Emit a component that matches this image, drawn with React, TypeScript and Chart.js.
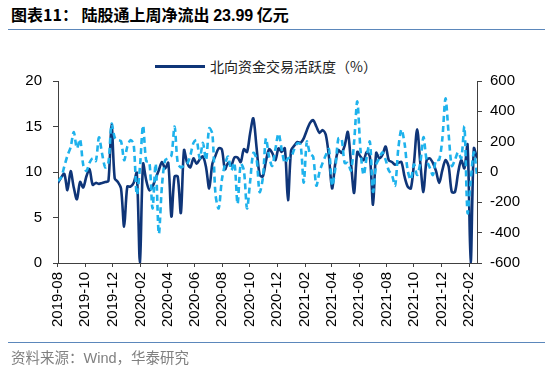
import React, { useEffect, useRef } from "react";
import { Chart, registerables } from "chart.js";

Chart.register(...registerables);

// Weekly observations starting from this Friday
const START_DATE = "2019-08-02";

const tickLabels = [
  "2019-08", "2019-10", "2019-12", "2020-02", "2020-04", "2020-06", "2020-08", "2020-10",
  "2020-12", "2021-02", "2021-04", "2021-06", "2021-08", "2021-10", "2021-12", "2022-02",
];

// 北向资金交易活跃度（%）— left axis
const activity = [
  8.8, 9.4, 9.8, 8.0, 10.1, 8.3, 7.0, 8.9, 8.3, 9.5,
  10.3, 8.6, 8.8, 8.7, 8.8, 8.9, 9.0, 15.2, 9.3, 8.9,
  8.2, 4.0, 8.4, 8.4, 8.8, 9.9, 0, 10.9, 9.1, 8.0,
  8.4, 9.3, 10.2, 11.1, 10.4, 11.0, 5.1, 9.5, 9.5, 5.5,
  12.4, 11.0, 10.5, 11.5, 10.9, 11.4, 11.7, 10.5, 8.2, 10.9,
  11.8, 12.6, 12.5, 10.3, 11.0, 10.7, 11.6, 11.6, 11.1, 12.5,
  12.2, 14.3, 15.9, 12.8, 9.7, 9.5, 11.2, 12.5, 12.1, 11.3,
  12.6, 12.2, 12.6, 6.9, 12.4, 12.9, 13.3, 13.2, 13.7, 14.6,
  15.4, 15.7, 15.0, 14.3, 14.6, 14.1, 11.7, 8.2, 10.9, 12.4,
  12.1, 12.9, 14.4, 11.0, 7.7, 12.2, 11.7, 11.3, 12.2, 11.7,
  6.4, 12.1, 11.5, 11.9, 12.8, 11.3, 11.1, 10.8, 11.0, 11.1,
  9.5, 8.4, 8.2, 11.0, 14.7, 11.0, 7.8, 11.3, 11.5, 11.0,
  10.1, 8.8, 10.2, 11.3, 10.6, 7.8, 7.8, 9.9, 11.3, 10.4,
  13.0, 0, 12.6, 11.5,
];

// Week-on-week change (%) — right axis
const change = [
  -60, -36, 36, 108, 162, 264, 156, 216, 48, 6,
  60, 90, 72, 228, 120, 30, 60, 318, 228, 210,
  204, 78, 168, 210, 186, -150, 30, 306, 72, 66,
  -240, 54, -408, -90, 78, 90, 108, 300, 60, 30,
  42, 54, 108, 192, 210, 90, 192, 78, 288, 252,
  -150, -240, -54, 48, 102, 12, 60, -210, 54, 12,
  -240, -60, 126, 90, -132, -42, 222, 100, 40, 150,
  254, 150, 60, 90, 100, 150, 190, 180, -70, 200,
  120, 100, -90, 0, 60, 110, 150, -90, 20, 220,
  220, 60, 60, 10, 200, 465, 150, -20, 100, 200,
  -130, 50, 90, 130, 80, 10, -20, -90, 150, 280,
  190, 10, -50, 50, -20, 60, 230, 80, 30, -20,
  80, 80, 220, 485, 250, 40, 80, 130, 90, 300,
  -270, -60, 130, -20,
];

const FONT = "'Liberation Sans', Arial, 'Noto Sans CJK SC', sans-serif";
const CJK = "'Noto Sans CJK SC', 'Liberation Sans', sans-serif";
const NAVY = "#0f3578";
const CYAN = "#1eb2ec";
const AXIS = "#404040";

export default function App() {
  const ref = useRef<HTMLCanvasElement>(null);

  useEffect(() => {
    document.body.style.margin = "0";
    const t0 = Date.parse(START_DATE + "T00:00:00Z");
    const monthPos = tickLabels.map(
      (l) => (Date.parse(l + "-01T00:00:00Z") - t0) / (7 * 86400000)
    );

    const chart = new Chart(ref.current!, {
      type: "line",
      data: {
        datasets: [
          {
            label: "北向资金交易活跃度（%）",
            data: activity.map((v, i) => ({ x: i, y: v })),
            yAxisID: "y",
            borderColor: NAVY,
            borderWidth: 2.6,
            pointRadius: 0,
            tension: 0.3,
            order: 1,
          },
          {
            label: "环比",
            data: change.map((v, i) => ({ x: i, y: v })),
            yAxisID: "y1",
            borderColor: CYAN,
            borderWidth: 2.6,
            borderDash: [6, 4],
            pointRadius: 0,
            tension: 0.3,
            order: 0,
          },
        ],
      },
      options: {
        animation: false,
        responsive: false,
        layout: { padding: { top: 81, left: 0, right: 0, bottom: 0 } },
        plugins: { legend: { display: false }, tooltip: { enabled: false } },
        scales: {
          x: {
            type: "linear",
            min: 0,
            max: activity.length - 1,
            afterBuildTicks: (s: any) => {
              s.ticks = monthPos.map((v) => ({ value: v }));
            },
            afterFit: (s: any) => {
              s.height = 117;
            },
            ticks: {
              autoSkip: false,
              minRotation: 90,
              maxRotation: 90,
              padding: 5,
              color: "#000",
              font: { family: FONT, size: 15 },
              callback: (_v: any, i: number) => tickLabels[i],
            },
            grid: { display: true, drawOnChartArea: false, drawTicks: true, tickLength: 4, color: AXIS },
            border: { display: true, color: AXIS, width: 1 },
          },
          y: {
            position: "left",
            min: 0,
            max: 20,
            afterFit: (s: any) => {
              s.width = 58;
            },
            ticks: { stepSize: 5, padding: 11, color: "#000", font: { family: FONT, size: 15 } },
            grid: { display: true, drawOnChartArea: false, drawTicks: true, tickLength: 5, color: AXIS },
            border: { display: true, color: AXIS, width: 1 },
          },
          y1: {
            position: "right",
            min: -600,
            max: 600,
            afterFit: (s: any) => {
              s.width = 73;
            },
            ticks: { stepSize: 200, padding: 8, color: "#000", font: { family: FONT, size: 15 } },
            grid: { display: true, drawOnChartArea: false, drawTicks: true, tickLength: 5, color: AXIS },
            border: { display: true, color: AXIS, width: 1 },
          },
        },
      },
    });
    return () => chart.destroy();
  }, []);

  return (
    <div style={{ position: "relative", width: 550, height: 380, background: "#fff", overflow: "hidden" }}>
      <div
        style={{
          position: "absolute", left: 11, top: 4, lineHeight: "20px",
          fontFamily: CJK, fontWeight: 700, fontSize: 16, color: "#000", whiteSpace: "nowrap",
        }}
      >
        图表11：&nbsp;陆股通上周净流出 <span style={{ fontFamily: FONT }}>23.99</span> 亿元
      </div>
      <div style={{ position: "absolute", left: 8, top: 29, width: 537, height: 1, background: "#5b87bb" }} />
      <div style={{ position: "absolute", left: 155, top: 65, width: 50, height: 2.6, background: NAVY }} />
      <div
        style={{
          position: "absolute", left: 210, top: 56, lineHeight: "20px",
          fontFamily: CJK, fontSize: 14, color: "#222", whiteSpace: "nowrap",
        }}
      >
        北向资金交易活跃度（%）
      </div>
      <canvas ref={ref} width={550} height={380} style={{ position: "absolute", left: 0, top: 0 }} />
      <div style={{ position: "absolute", left: 8, top: 342, width: 537, height: 1, background: "#5b87bb" }} />
      <div
        style={{
          position: "absolute", left: 11, top: 347, lineHeight: "20px",
          fontFamily: CJK, fontSize: 14.5, color: "#808080", whiteSpace: "nowrap",
        }}
      >
        资料来源：<span style={{ fontFamily: FONT }}>Wind</span>，华泰研究
      </div>
    </div>
  );
}
